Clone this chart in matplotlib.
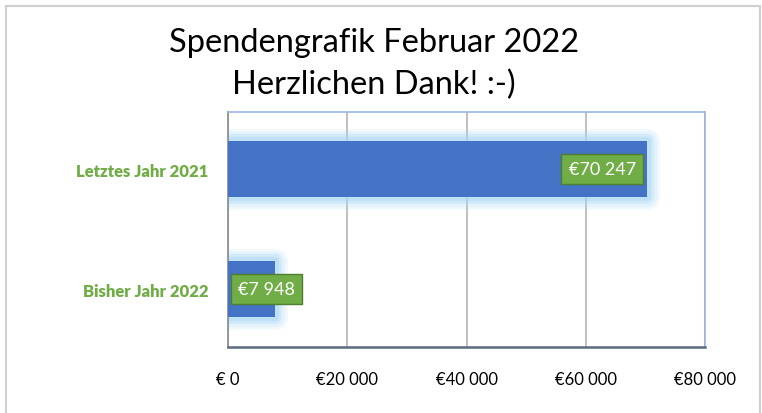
import matplotlib.pyplot as plt
import matplotlib.patches as mpatches

categories = ["Bisher Jahr 2022", "Letztes Jahr 2021"]
values = [7948, 70247]
value_labels = ["€7 948", "€70 247"]
xticks = [0, 20000, 40000, 60000, 80000]
xtick_labels = ["€ 0", "€20 000", "€40 000", "€60 000", "€80 000"]
title = "Spendengrafik Februar 2022\nHerzlichen Dank! :-)"

BAR = "#4472C4"
GLOW = "#A9D8F7"
GREEN = "#70AD47"
GREEN_EDGE = "#4E7F30"

plt.rcParams["font.family"] = ["Lato", "DejaVu Sans"]

fig = plt.figure(figsize=(7.62, 4.14), dpi=100, facecolor="white")

# chart frame (Excel chart area)
fig.patches.append(mpatches.Rectangle((6 / 762, -0.01), 754 / 762, 1 - 7 / 414 + 0.01,
                                      transform=fig.transFigure, fill=False,
                                      edgecolor="#d0d0d0", linewidth=1.5))

ax = fig.add_axes([228 / 762, 1 - 348 / 414, 477 / 762, 235 / 414])
ypos = list(range(len(categories)))

# soft glow around the bars
for lw, a in [(18, 0.15), (14, 0.2), (10, 0.3), (6, 0.45)]:
    ax.barh(ypos, values, height=0.47, color="none", edgecolor=GLOW,
            linewidth=lw, alpha=a, zorder=2, joinstyle="round")
ax.barh(ypos, values, height=0.47, color=BAR, zorder=3)

for y, v, lab in zip(ypos, values, value_labels):
    x = max(v - 7500, 6500)
    ax.text(x, y, lab, ha="center", va="center", color="white", fontsize=13,
            zorder=5,
            bbox=dict(boxstyle="square,pad=0.4", facecolor=GREEN,
                      edgecolor=GREEN_EDGE, linewidth=1))

ax.set_xlim(0, 80000)
ax.set_ylim(-0.483, 1.475)
ax.set_xticks(xticks)
ax.set_xticklabels(xtick_labels, fontsize=12)
ax.set_yticks(ypos)
ax.set_yticklabels(categories, fontsize=12, fontweight="heavy", color=GREEN)
ax.tick_params(axis="both", length=0)
ax.tick_params(axis="x", pad=17)
ax.tick_params(axis="y", pad=14)
ax.grid(axis="x", color="#b4b4b4", linewidth=1.2, zorder=0)
ax.set_axisbelow(True)

for side in ["top", "right"]:
    ax.spines[side].set_color("#9bb4e0")
    ax.spines[side].set_linewidth(1.2)
ax.spines["left"].set_color("#8a8a8a")
ax.spines["left"].set_linewidth(1.2)
ax.spines["bottom"].set_color("#5a6a80")
ax.spines["bottom"].set_linewidth(1.8)

fig.text(374 / 762, 1 - 64 / 414, title, ha="center", va="center",
         fontsize=23.5, linespacing=1.45, color="black")

plt.savefig("out.png", dpi=100)
